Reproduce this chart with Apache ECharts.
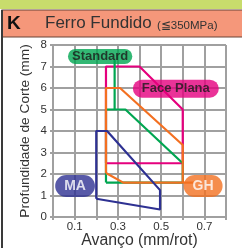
<!DOCTYPE html>
<html><head><meta charset="utf-8">
<script src="https://cdn.jsdelivr.net/npm/echarts@6/dist/echarts.min.js"></script>
<style>html,body{margin:0;padding:0;background:#fff}#c{width:242px;height:248px}</style>
</head><body><div id="c"></div>
<script>
// Data (feed mm/rot, depth of cut mm)
const xTickLabels = ['0.1', '0.3', '0.5', '0.7'];
const yTickLabels = ['0','1','2','3','4','5','6','7','8'];
const faceplana = [[0.245,2.5],[0.245,7],[0.4,7],[0.6,5],[0.6,2.5],[0.245,2.5]];
const standard = [[0.245,1.6],[0.245,5],[0.335,5],[0.6,2.5],[0.6,1.6],[0.245,1.6]];
const standardLink = [[0.285,5],[0.285,7.3]];
const gh = [[0.245,2.05],[0.245,6],[0.31,6],[0.6,3.35],[0.6,1.6],[0.325,1.6],[0.245,2.05]];
const ghLink = [[0.6,1.6],[0.66,1.6]];
const ma = [[0.2,0.85],[0.2,4],[0.25,4],[0.495,1.25],[0.495,0.35],[0.2,0.85]];
const labelNames = ['Standard','Face Plana','MA','GH'];
const labelPos = [[0.218,7.47],[0.568,5.97],[0.102,1.44],[0.694,1.44]];

const C = {pink:'#e5007e', green:'#00a651', orange:'#f37021', navy:'#2e3192'};
const FF = 'Liberation Sans, Arial, sans-serif';
const chart = echarts.init(document.getElementById('c'), null, {renderer:'canvas'});
const lineS = (d, color) => ({type:'line', data:d, showSymbol:false, symbol:'none', silent:true,
  lineStyle:{color, width:2.2}, animation:false});
const lab = (i, bg, fg, fs, pad) => ({type:'scatter', data:[labelPos[i]], symbolSize:0, silent:true, animation:false, z:10,
  label:{show:true, position:'inside', formatter:labelNames[i], color:fg, fontWeight:'bold', fontSize:fs,
    fontFamily:FF, backgroundColor:bg, borderRadius:12, padding:pad}});
chart.setOption({
  animation:false,
  graphic:[
    {type:'rect', shape:{x:0,y:0,width:242,height:9}, style:{fill:'#c8dc6c'}},
    {type:'rect', shape:{x:2,y:10,width:242,height:27}, style:{fill:'#f5977a', stroke:'#6b4436', lineWidth:1.2}},
    {type:'line', shape:{x1:2,y1:10,x2:2,y2:248}, style:{stroke:'#3a3a3a', lineWidth:2}},
    {type:'text', left:7, top:14, style:{text:'K', font:'bold 19px ' + FF, fill:'#111'}},
    {type:'text', left:45, top:15, style:{text:'Ferro Fundido', font:'17px ' + FF, fill:'#333'}},
    {type:'text', left:157, top:20, style:{text:'(≦350MPa)', font:'11.5px ' + FF, fill:'#333'}}
  ],
  grid:{left:53, right:16, top:45, bottom:31, containLabel:false, outerBoundsMode:'none'},
  xAxis:{type:'value', min:0, max:0.8, interval:0.1,
    name:'Avanço (mm/rot)', nameLocation:'middle', nameGap:16, nameMoveOverlap:false,
    nameTextStyle:{fontSize:15.8, color:'#333', fontFamily:FF},
    axisLine:{show:true, lineStyle:{color:'#a0a0a0', width:2}},
    axisTick:{show:true, length:3, lineStyle:{color:'#a0a0a0', width:2}},
    splitLine:{show:true, lineStyle:{color:'#a0a0a0', width:2}},
    axisLabel:{fontSize:11.5, color:'#333', margin:4, fontFamily:FF,
      formatter:v=>{const s=v.toFixed(1); return xTickLabels.includes(s)?s:'';}}},
  yAxis:{type:'value', min:0, max:8, interval:1,
    name:'Profundidade de Corte (mm)', nameLocation:'middle', nameGap:21, nameMoveOverlap:false,
    nameTextStyle:{fontSize:13.7, color:'#333', fontFamily:FF},
    axisLine:{show:true, lineStyle:{color:'#a0a0a0', width:2}},
    axisTick:{show:true, length:3, lineStyle:{color:'#a0a0a0', width:2}},
    splitLine:{show:true, lineStyle:{color:'#a0a0a0', width:2}},
    axisLabel:{fontSize:11.5, color:'#333', margin:6, fontFamily:FF,
      formatter:v=>yTickLabels[Math.round(v)]}},
  series:[
    lineS(faceplana, C.pink),
    lineS(standard, C.green),
    lineS(standardLink, C.green),
    lineS(gh, C.orange),
    lineS(ghLink, C.orange),
    lineS(ma, C.navy),
    lab(0, C.green, '#1a1a1a', 13, [1,4,1,4]),
    lab(1, C.pink, '#1a1a1a', 13, [3,9,2,9]),
    lab(2, C.navy, '#fff', 14, [4,9,4,9]),
    lab(3, C.orange, '#fff', 14, [4,9,4,9])
  ]
});
</script></body></html>
